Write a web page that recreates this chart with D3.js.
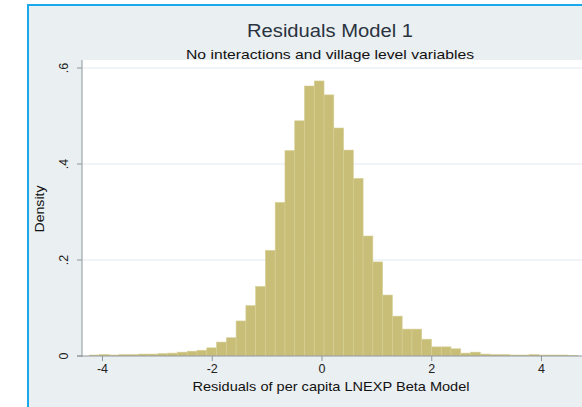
<!DOCTYPE html>
<html>
<head>
<meta charset="utf-8">
<script src="https://cdn.jsdelivr.net/npm/d3@7"></script>
<style>
  body { margin: 0; background: #fff; }
  text { font-family: "Liberation Sans", Arial, sans-serif; }
</style>
</head>
<body>
<div id="chart"></div>
<script>
// histogram bins: left edges and densities (bin width 0.178)
var binWidth = 0.178
var binStart = [-4.226, -4.048, -3.870, -3.692, -3.514, -3.336, -3.158, -2.980, -2.802, -2.624,
  -2.446, -2.268, -2.090, -1.912, -1.734, -1.556, -1.378, -1.200, -1.022, -0.844,
  -0.666, -0.488, -0.310, -0.132, 0.046, 0.224, 0.402, 0.580, 0.758, 0.936,
  1.114, 1.292, 1.470, 1.648, 1.826, 2.004, 2.182, 2.360, 2.538, 2.716,
  2.894, 3.072, 3.250, 3.428, 3.606, 3.784, 3.962, 4.140, 4.318, 4.496]
var density = [0.002, 0.003, 0.002, 0.003, 0.003, 0.004, 0.004, 0.005, 0.006, 0.008,
  0.010, 0.012, 0.017, 0.029, 0.038, 0.073, 0.105, 0.145, 0.220, 0.320,
  0.428, 0.490, 0.5625, 0.573, 0.544, 0.475, 0.429, 0.370, 0.250, 0.196,
  0.127, 0.083, 0.056, 0.056, 0.035, 0.019, 0.019, 0.015, 0.006, 0.008,
  0.004, 0.003, 0.003, 0.002, 0.002, 0.003, 0.002, 0.002, 0.002, 0.001]

var xTicks = [-4, -2, 0, 2, 4]
var yTicks = [0, 0.2, 0.4, 0.6]
var yTickLabels = ["0", ".2", ".4", ".6"]

var width = 582, height = 407

var svg = d3.select("#chart").append("svg")
  .attr("width", width).attr("height", height)

// graph region
svg.append("rect").attr("x", 28).attr("y", 5).attr("width", width - 28).attr("height", height - 5)
  .attr("fill", "#eaeff2")
svg.append("line").attr("x1", 28).attr("y1", 5).attr("x2", 28).attr("y2", height)
  .attr("stroke", "#19a8ec").attr("stroke-width", 2)
svg.append("line").attr("x1", 27).attr("y1", 5).attr("x2", width).attr("y2", 5)
  .attr("stroke", "#19a8ec").attr("stroke-width", 2)

var x = d3.scaleLinear().domain([-4, 4]).range([102, 541])
var y = d3.scaleLinear().domain([0, 0.6]).range([356, 68])

var plotLeft = 82, plotTop = 60, plotBottom = 356

// plot region
svg.append("rect").attr("x", plotLeft).attr("y", plotTop)
  .attr("width", width - plotLeft).attr("height", plotBottom - plotTop)
  .attr("fill", "#ffffff")

svg.append("clipPath").attr("id", "clip").append("rect")
  .attr("x", plotLeft).attr("y", plotTop).attr("width", width - plotLeft).attr("height", plotBottom - plotTop)

// gridlines
svg.selectAll("line.grid").data(yTicks.slice(1)).enter().append("line")
  .attr("class", "grid")
  .attr("x1", plotLeft).attr("x2", width)
  .attr("y1", function (d) { return y(d) }).attr("y2", function (d) { return y(d) })
  .attr("stroke", "#e4eaee").attr("stroke-width", 1)

// bars
svg.append("g").attr("clip-path", "url(#clip)")
  .selectAll("rect").data(binStart).enter().append("rect")
  .attr("x", function (d) { return x(d) })
  .attr("width", function (d) { return x(d + binWidth) - x(d) })
  .attr("y", function (d, i) { return y(density[i]) })
  .attr("height", function (d, i) { return y(0) - y(density[i]) })
  .attr("fill", "#c8be77")
  .attr("stroke", "#d6cf95")
  .attr("stroke-width", 0.6)

// x axis
var xAxis = svg.append("g").attr("transform", "translate(0," + plotBottom + ")")
  .call(d3.axisBottom(x).tickValues(xTicks).tickSize(5).tickPadding(3).tickFormat(d3.format("d")))
xAxis.select(".domain").remove()
xAxis.append("line").attr("x1", plotLeft - 5).attr("x2", width).attr("stroke", "#8f979c")
xAxis.selectAll(".tick line").attr("stroke", "#8f979c")
xAxis.selectAll(".tick text").attr("fill", "#222").style("font-size", "12.5px")
  .text(function (d) { return d < 0 ? "-" + Math.abs(d) : d })

// y axis
var yAxis = svg.append("g").attr("transform", "translate(" + plotLeft + ",0)")
yAxis.append("line").attr("y1", plotTop).attr("y2", plotBottom + 1).attr("stroke", "#8f979c")
yAxis.selectAll("line.tick").data(yTicks).enter().append("line")
  .attr("x1", -5).attr("x2", 0)
  .attr("y1", function (d) { return y(d) }).attr("y2", function (d) { return y(d) })
  .attr("stroke", "#8f979c")
yAxis.selectAll("text").data(yTicks).enter().append("text")
  .attr("transform", function (d) { return "translate(-14," + y(d) + ") rotate(-90)" })
  .attr("text-anchor", "middle")
  .style("font-size", "12.5px").attr("fill", "#222")
  .text(function (d, i) { return yTickLabels[i] })

// titles
svg.append("text").attr("x", 330).attr("y", 37).attr("text-anchor", "middle")
  .style("font-size", "17.5px").attr("fill", "#2a3340")
  .attr("textLength", 166).attr("lengthAdjust", "spacingAndGlyphs")
  .text("Residuals Model 1")
svg.append("text").attr("x", 330).attr("y", 59).attr("text-anchor", "middle")
  .style("font-size", "13.5px").attr("fill", "#111")
  .attr("textLength", 288).attr("lengthAdjust", "spacingAndGlyphs")
  .text("No interactions and village level variables")
svg.append("text").attr("x", 331).attr("y", 391).attr("text-anchor", "middle")
  .style("font-size", "13px").attr("fill", "#111")
  .attr("textLength", 277).attr("lengthAdjust", "spacingAndGlyphs")
  .text("Residuals of per capita LNEXP Beta Model")
svg.append("text").attr("transform", "translate(44,209) rotate(-90)").attr("text-anchor", "middle")
  .style("font-size", "12.5px").attr("fill", "#111")
  .attr("textLength", 47).attr("lengthAdjust", "spacingAndGlyphs")
  .text("Density")
</script>
</body>
</html>
